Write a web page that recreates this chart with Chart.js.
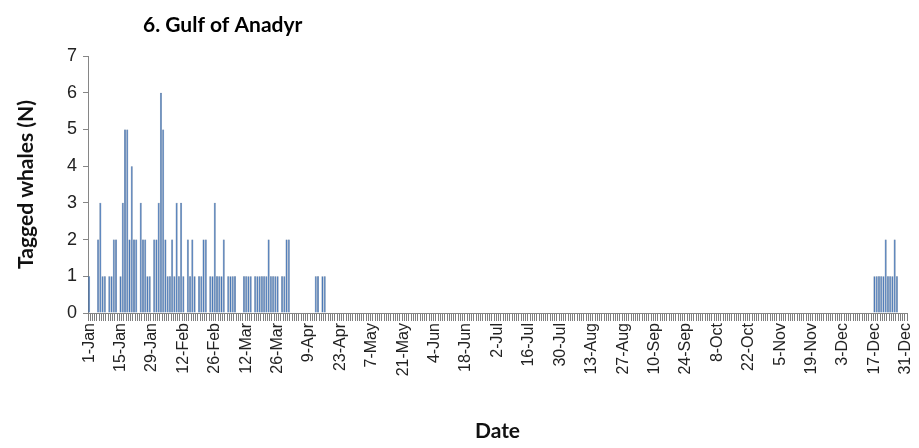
<!DOCTYPE html>
<html>
<head>
<meta charset="utf-8">
<script src="https://cdn.jsdelivr.net/npm/chart.js@4/dist/chart.umd.min.js"></script>
<style>
  html, body { margin: 0; padding: 0; background: #fff; }
  #wrap { width: 919px; height: 448px; }
</style>
</head>
<body>
<div id="wrap"><canvas id="whaleChart"></canvas></div>
<script>
// Calendar used for the daily categories (non-leap year)
const monthNames = ['Jan', 'Feb', 'Mar', 'Apr', 'May', 'Jun', 'Jul', 'Aug', 'Sep', 'Oct', 'Nov', 'Dec'];
const monthDays = [31, 28, 31, 30, 31, 30, 31, 31, 30, 31, 30, 31];

// Days on which tagged whales were present, and how many
const activeDates = [
  '1-Jan', '5-Jan', '6-Jan', '7-Jan', '8-Jan', '10-Jan', '11-Jan', '12-Jan', '13-Jan',
  '15-Jan', '16-Jan', '17-Jan', '18-Jan', '19-Jan', '20-Jan', '21-Jan', '22-Jan', '24-Jan',
  '25-Jan', '26-Jan', '27-Jan', '28-Jan', '30-Jan', '31-Jan', '1-Feb', '2-Feb', '3-Feb',
  '4-Feb', '5-Feb', '6-Feb', '7-Feb', '8-Feb', '9-Feb', '10-Feb', '11-Feb', '12-Feb',
  '14-Feb', '15-Feb', '16-Feb', '17-Feb', '19-Feb', '20-Feb', '21-Feb', '22-Feb', '24-Feb',
  '25-Feb', '26-Feb', '27-Feb', '28-Feb', '1-Mar', '2-Mar', '4-Mar', '5-Mar', '6-Mar', '7-Mar',
  '11-Mar', '12-Mar', '13-Mar', '14-Mar', '16-Mar', '17-Mar', '18-Mar', '19-Mar', '20-Mar',
  '21-Mar', '22-Mar', '23-Mar', '24-Mar', '25-Mar', '26-Mar', '28-Mar', '29-Mar', '30-Mar',
  '31-Mar', '12-Apr', '13-Apr', '15-Apr', '16-Apr',
  '17-Dec', '18-Dec', '19-Dec', '20-Dec', '21-Dec', '22-Dec', '23-Dec', '24-Dec', '25-Dec',
  '26-Dec', '27-Dec'
];
const activeCounts = [
  1, 2, 3, 1, 1, 1, 1, 2, 2,
  1, 3, 5, 5, 2, 4, 2, 2, 3,
  2, 2, 1, 1, 2, 2, 3, 6, 5,
  2, 1, 1, 2, 1, 3, 1, 3, 1,
  2, 1, 2, 1, 1, 1, 2, 2, 1,
  1, 3, 1, 1, 1, 2, 1, 1, 1, 1,
  1, 1, 1, 1, 1, 1, 1, 1, 1,
  1, 2, 1, 1, 1, 1, 1, 1, 2,
  2, 1, 1, 1, 1,
  1, 1, 1, 1, 1, 2, 1, 1, 1,
  2, 1
];

const yTicks = [0, 1, 2, 3, 4, 5, 6, 7];

// Build one category per day and the daily counts
const dates = [];
monthNames.forEach((m, i) => {
  for (let d = 1; d <= monthDays[i]; d++) dates.push(d + '-' + m);
});
const counts = dates.map(d => {
  const k = activeDates.indexOf(d);
  return k >= 0 ? activeCounts[k] : 0;
});

const titleText = '6. Gulf of Anadyr';
const titlePlugin = {
  id: 'leftTitle',
  afterDraw(chart) {
    const ctx = chart.ctx;
    ctx.save();
    ctx.font = 'bold 21px Lato';
    ctx.fillStyle = '#000';
    ctx.textBaseline = 'alphabetic';
    ctx.fillText(titleText, 143, 32);
    ctx.restore();
  }
};

new Chart(document.getElementById('whaleChart'), {
  type: 'bar',
  data: {
    labels: dates,
    datasets: [{
      data: counts,
      backgroundColor: '#4a78b6',
      borderColor: '#3e5f8a',
      borderWidth: 0.5,
      barPercentage: 0.9,
      categoryPercentage: 1
    }]
  },
  options: {
    responsive: true,
    maintainAspectRatio: false,
    animation: false,
    layout: { padding: { top: 56, right: 12, left: 0, bottom: 0 } },
    plugins: {
      legend: { display: false },
      tooltip: { enabled: false }
    },
    scales: {
      x: {
        grid: { drawOnChartArea: false, drawTicks: true, tickLength: 8, color: '#7f7f7f' },
        border: { color: '#868686' },
        ticks: {
          autoSkip: false,
          minRotation: 90,
          maxRotation: 90,
          padding: 2,
          color: '#222',
          font: { family: 'Liberation Sans', size: 16 },
          callback: (v, i) => (i % 14 === 0 ? dates[i] : '')
        },
        title: {
          display: true,
          text: 'Date',
          color: '#111',
          font: { family: 'Lato', size: 21, weight: 'bold' },
          padding: { top: 0, bottom: 4 }
        },
        afterFit: s => {
          s.height = 135;
          s.paddingLeft = 0;
          s.paddingRight = 0;
        }
      },
      y: {
        min: 0,
        max: 7,
        grid: { drawOnChartArea: false, drawTicks: true, tickLength: 5, color: '#868686' },
        border: { color: '#868686' },
        afterBuildTicks: s => { s.ticks = yTicks.map(v => ({ value: v })); },
        ticks: {
          color: '#222',
          padding: 6,
          font: { family: 'Liberation Sans', size: 18 }
        },
        title: {
          display: true,
          text: 'Tagged whales (N)',
          color: '#111',
          font: { family: 'Lato', size: 21, weight: 'bold' },
          padding: { top: 14, bottom: 0 }
        },
        afterFit: s => { s.width = 88; }
      }
    }
  },
  plugins: [titlePlugin]
});
</script>
</body>
</html>
